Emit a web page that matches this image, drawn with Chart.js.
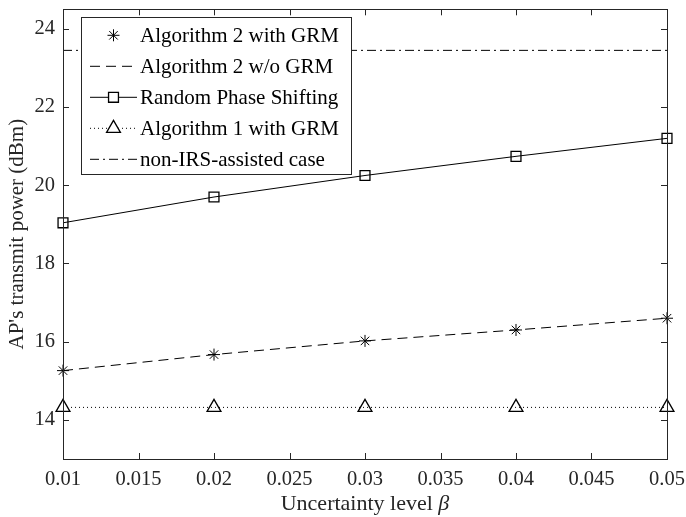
<!DOCTYPE html>
<html>
<head>
<meta charset="utf-8">
<script src="https://cdn.jsdelivr.net/npm/chart.js@4/dist/chart.umd.min.js"></script>
<style>
  html, body { margin: 0; padding: 0; background: #fff; }
  #wrap { width: 686px; height: 517px; }
</style>
</head>
<body>
<div id="wrap"><canvas id="graf" width="686" height="517"></canvas></div>
<script>
// data
const beta = [0.01, 0.02, 0.03, 0.04, 0.05];
const alg2Grm = [15.26, 15.67, 16.02, 16.30, 16.60];
const alg2NoGrm = [15.26, 15.67, 16.02, 16.30, 16.60];
const randomPhase = [19.04, 19.70, 20.25, 20.74, 21.20];
const alg1Grm = [14.32, 14.32, 14.32, 14.32, 14.32];
const nonIrs = [23.45, 23.45, 23.45, 23.45, 23.45];

const xTicks = [0.01, 0.015, 0.02, 0.025, 0.03, 0.035, 0.04, 0.045, 0.05];
const yTicks = [14, 16, 18, 20, 22, 24];

const axisCol = '#262626';
const fontFam = '"Liberation Serif", "Times New Roman", serif';

function pts(ys) {
    return beta.map((b, i) => ({x: b, y: ys[i]}));
}

// box, inward ticks, x label with italic beta, legend inside axes
const boxPlugin = {
    id: 'box',
    afterDatasetsDraw(chart) {
        const ctx = chart.ctx;
        const a = chart.chartArea;
        const xs = chart.scales.x, ys = chart.scales.y;
        const tl = 6;
        ctx.save();
        ctx.strokeStyle = axisCol;
        ctx.lineWidth = 1;
        ctx.beginPath();
        xTicks.forEach(v => {
            let px = Math.round(xs.getPixelForValue(v)) + 0.5;
            ctx.moveTo(px, a.bottom); ctx.lineTo(px, a.bottom - tl);
            ctx.moveTo(px, a.top); ctx.lineTo(px, a.top + tl);
        });
        yTicks.forEach(v => {
            let py = Math.round(ys.getPixelForValue(v)) + 0.5;
            ctx.moveTo(a.left, py); ctx.lineTo(a.left + tl, py);
            ctx.moveTo(a.right, py); ctx.lineTo(a.right - tl, py);
        });
        ctx.stroke();
        ctx.strokeRect(Math.round(a.left) + 0.5, Math.round(a.top) + 0.5,
            Math.round(a.right - a.left), Math.round(a.bottom - a.top));

        // x label
        ctx.fillStyle = axisCol;
        ctx.textBaseline = 'middle';
        ctx.textAlign = 'left';
        const t1 = 'Uncertainty level ', t2 = 'β';
        ctx.font = '22px ' + fontFam;
        const w1 = ctx.measureText(t1).width;
        ctx.font = 'italic 22px ' + fontFam;
        const w2 = ctx.measureText(t2).width;
        const sx = (a.left + a.right) / 2 - (w1 + w2) / 2;
        ctx.font = '22px ' + fontFam;
        ctx.fillText(t1, sx, 504);
        ctx.font = 'italic 22px ' + fontFam;
        ctx.fillText(t2, sx + w1, 504);

        // legend
        const lx = a.left + 18, ly = a.top + 8, lw = 270, lh = 157;
        ctx.fillStyle = '#fff';
        ctx.fillRect(lx, ly, lw, lh);
        ctx.strokeRect(Math.round(lx) + 0.5, Math.round(ly) + 0.5, lw, lh);
        ctx.font = '21px ' + fontFam;
        chart.data.datasets.forEach((ds, i) => {
            const ry = ly + 18 + i * 31;
            const x0 = lx + 9, x1 = lx + 56, xm = (x0 + x1) / 2;
            if (ds.showLine !== false) {
                ctx.save();
                ctx.strokeStyle = ds.borderColor;
                ctx.lineWidth = ds.borderWidth;
                ctx.setLineDash(ds.borderDash || []);
                ctx.beginPath();
                ctx.moveTo(x0, ry); ctx.lineTo(x1, ry);
                ctx.stroke();
                ctx.restore();
            }
            if (ds.pointRadius > 0 && Chart.helpers && Chart.helpers.drawPoint) {
                ctx.save();
                ctx.strokeStyle = ds.pointBorderColor;
                ctx.fillStyle = '#fff';
                ctx.lineWidth = ds.pointBorderWidth;
                Chart.helpers.drawPoint(ctx, {pointStyle: ds.pointStyle, radius: ds.pointRadius, rotation: 0, borderWidth: ds.pointBorderWidth}, xm, ry);
                ctx.restore();
            }
            ctx.fillStyle = '#000';
            ctx.fillText(ds.label, lx + 59, ry + 1);
        });
        ctx.restore();
    }
};

document.addEventListener("DOMContentLoaded", () => {
    let cont = document.getElementById('graf').getContext('2d');
    let graf = new Chart(cont, {
        type: 'line',
        data: {
            datasets: [
                {
                    label: 'Algorithm 2 with GRM',
                    data: pts(alg2Grm),
                    showLine: false,
                    borderColor: '#000',
                    borderWidth: 1,
                    pointStyle: 'star',
                    pointRadius: 6,
                    pointBorderColor: '#000',
                    pointBorderWidth: 1,
                    fill: false,
                },
                {
                    label: 'Algorithm 2 w/o GRM',
                    data: pts(alg2NoGrm),
                    borderColor: '#000',
                    borderWidth: 1,
                    borderDash: [10, 6],
                    pointRadius: 0,
                    fill: false,
                },
                {
                    label: 'Random Phase Shifting',
                    data: pts(randomPhase),
                    borderColor: '#000',
                    borderWidth: 1,
                    pointStyle: 'rect',
                    pointRadius: 7,
                    pointBorderColor: '#000',
                    pointBackgroundColor: 'rgba(0,0,0,0)',
                    pointBorderWidth: 1.3,
                    fill: false,
                },
                {
                    label: 'Algorithm 1 with GRM',
                    data: pts(alg1Grm),
                    borderColor: '#000',
                    borderWidth: 1,
                    borderDash: [1, 3],
                    pointStyle: 'triangle',
                    pointRadius: 8,
                    pointBorderColor: '#000',
                    pointBackgroundColor: 'rgba(0,0,0,0)',
                    pointBorderWidth: 1.3,
                    fill: false,
                },
                {
                    label: 'non-IRS-assisted case',
                    data: pts(nonIrs),
                    borderColor: '#000',
                    borderWidth: 1,
                    borderDash: [9, 4, 2, 4],
                    pointRadius: 0,
                    fill: false,
                },
            ]
        },
        options: {
            responsive: false,
            animation: false,
            clip: false,
            layout: { padding: 0 },
            plugins: {
                legend: { display: false },
                tooltip: { enabled: false },
            },
            scales: {
                x: {
                    type: 'linear',
                    min: 0.01,
                    max: 0.05,
                    grid: { display: false, drawTicks: false },
                    border: { display: false },
                    afterBuildTicks: s => { s.ticks = xTicks.map(v => ({value: v})); },
                    afterFit: s => { s.height = 58; s.paddingLeft = 0; s.paddingRight = 19; },
                    ticks: {
                        padding: 8,
                        color: axisCol,
                        font: { family: fontFam, size: 20.5 },
                        maxRotation: 0,
                        autoSkip: false,
                        callback: v => String(+v.toFixed(3)),
                    },
                },
                y: {
                    min: 13,
                    max: 24.5,
                    grid: { display: false, drawTicks: false },
                    border: { display: false },
                    afterBuildTicks: s => { s.ticks = yTicks.map(v => ({value: v})); },
                    afterFit: s => { s.width = 63; s.paddingTop = 9; s.paddingBottom = 0; },
                    ticks: {
                        padding: 8,
                        color: axisCol,
                        font: { family: fontFam, size: 20.5 },
                    },
                    title: {
                        display: true,
                        text: "AP's transmit power (dBm)",
                        color: axisCol,
                        font: { family: fontFam, size: 21 },
                        padding: { top: 5, bottom: 0 },
                    },
                },
            },
        },
        plugins: [boxPlugin],
    });
});
</script>
</body>
</html>
